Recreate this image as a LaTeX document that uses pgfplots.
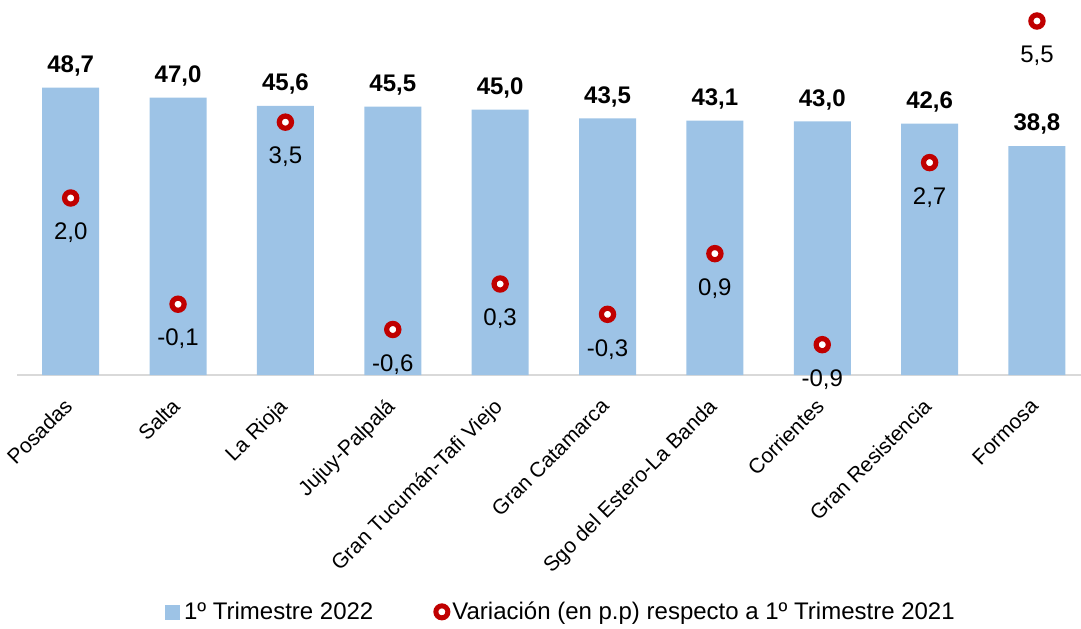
\documentclass[border=0pt]{standalone}
\usepackage{fontspec}
\setmainfont{Liberation Sans}
\usepackage{pgfplots}
\pgfplotsset{compat=1.18}
\definecolor{barblue}{HTML}{9DC3E6}
\definecolor{mkred}{HTML}{C00000}
\newcommand{\ff}{\fontsize{21}{25}\selectfont}
\newcommand{\fl}{\fontsize{24}{28}\selectfont}
\begin{document}
\begin{tikzpicture}[font=\ff]
\begin{axis}[name=ax, scale only axis, width=1064pt, height=354pt,
  xmin=-0.5, xmax=9.41, ymin=0, ymax=60,
  axis y line=none, axis x line*=bottom,
  x axis line style={draw=black!15, line width=1.5pt},
  xtick={0,...,9}, major tick length=0pt,
  xticklabels={Posadas,Salta,La Rioja,Jujuy-Palpalá,Gran Tucumán-Tafi Viejo,Gran Catamarca,Sgo del Estero-La Banda,Corrientes,Gran Resistencia,Formosa},
  xticklabel style={font=\ff, rotate=45, anchor=north east, inner sep=2pt, xshift=-19pt, yshift=-8pt},
  /pgf/number format/.cd, use comma, fixed, fixed zerofill, precision=1, assume math mode=true, /pgfplots/.cd,
  clip=false]
\addplot[ybar, bar width=57pt, fill=barblue, draw=none,
  nodes near coords, every node near coord/.append style={font=\fl\bfseries, anchor=south, yshift=8pt}]
  coordinates {(0,48.7) (1,47.0) (2,45.6) (3,45.5) (4,45.0) (5,43.5) (6,43.1) (7,43.0) (8,42.6) (9,38.8)};
\end{axis}
\begin{axis}[scale only axis, width=1064pt, height=354pt,
  xmin=-0.5, xmax=9.41, ymin=-1.5, ymax=5.5, hide axis, clip=false,
  /pgf/number format/.cd, use comma, fixed, fixed zerofill, precision=1, assume math mode=true, /pgfplots/.cd,
  legend style={at={(0.511,-0.669)}, anchor=center, draw=none, fill=none, font=\fl, legend columns=2,
    /tikz/every even column/.append style={column sep=58pt}},
  legend cell align=left]
\addlegendimage{legend image code/.code={\fill[barblue] (2pt,-7pt) rectangle (16pt,7pt); \path (19pt,0pt);}}
\addlegendentry{1º Trimestre 2022}
\addplot[only marks, mark=*, mark size=6.1pt, mark options={draw=mkred, fill=white, line width=5.2pt},
  legend image code/.code={\draw[mkred, fill=white, line width=5pt] (10pt,0pt) circle (6pt);},
  nodes near coords, every node near coord/.append style={font=\fl, anchor=north, yshift=-19pt}]
  coordinates {(0,2.0) (1,-0.1) (2,3.5) (3,-0.6) (4,0.3) (5,-0.3) (6,0.9) (7,-0.9) (8,2.7) (9,5.5)};
\addlegendentry{Variación (en p.p) respecto a 1º Trimestre 2021}
\end{axis}
\pgfresetboundingbox
\path[use as bounding box] ([xshift=-17pt,yshift=-253pt]ax.south west) rectangle ([yshift=21pt]ax.north east);
\end{tikzpicture}
\end{document}
